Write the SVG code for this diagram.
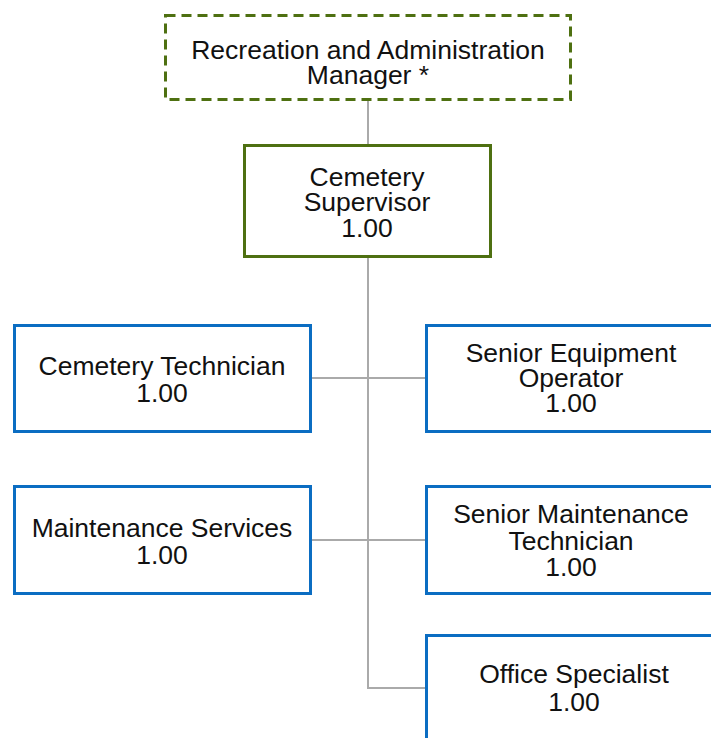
<svg xmlns="http://www.w3.org/2000/svg" width="711" height="738" viewBox="0 0 711 738">
<style>
.t{font-family:"Liberation Sans",Arial,sans-serif;font-size:26.5px;fill:#111;text-anchor:middle}
.g{fill:#fff;stroke:#4E7011;stroke-width:3}
.gd{fill:#fff;stroke:#4E7011;stroke-width:3;stroke-dasharray:10 6}
.b{fill:#fff;stroke:#0B6DC2;stroke-width:3}
.c{fill:none;stroke:#AAAAAA;stroke-width:2}
</style>
<rect width="711" height="738" fill="#fff"/>
<g id="connectors">
<line class="c" x1="368" y1="101" x2="368" y2="144"/>
<polyline class="c" points="368,258 368,688 425,688"/>
<line class="c" x1="312" y1="378" x2="425" y2="378"/>
<line class="c" x1="312" y1="540" x2="425" y2="540"/>
</g>
<g id="manager">
<rect class="gd" x="165.5" y="15.5" width="405" height="84"/>
<text class="t" x="368" y="59">Recreation and Administration</text>
<text class="t" x="368" y="84">Manager *</text>
</g>
<g id="supervisor">
<rect class="g" x="244.5" y="145.5" width="246" height="111"/>
<text class="t" x="367" y="186">Cemetery</text>
<text class="t" x="367" y="211">Supervisor</text>
<text class="t" x="367" y="237">1.00</text>
</g>
<g id="cemetery-technician">
<rect class="b" x="14.5" y="325.5" width="296" height="106"/>
<text class="t" x="162" y="375">Cemetery Technician</text>
<text class="t" x="162" y="402">1.00</text>
</g>
<g id="senior-equipment-operator">
<rect class="b" x="426.5" y="325.5" width="296" height="106"/>
<text class="t" x="571" y="362">Senior Equipment</text>
<text class="t" x="571" y="387">Operator</text>
<text class="t" x="571" y="412">1.00</text>
</g>
<g id="maintenance-services">
<rect class="b" x="14.5" y="486.5" width="296" height="107"/>
<text class="t" x="162" y="537">Maintenance Services</text>
<text class="t" x="162" y="564">1.00</text>
</g>
<g id="senior-maintenance-technician">
<rect class="b" x="426.5" y="486.5" width="296" height="107"/>
<text class="t" x="571" y="523">Senior Maintenance</text>
<text class="t" x="571" y="550">Technician</text>
<text class="t" x="571" y="576">1.00</text>
</g>
<g id="office-specialist">
<rect class="b" x="426.5" y="635.5" width="296" height="106"/>
<text class="t" x="574" y="683">Office Specialist</text>
<text class="t" x="574" y="711">1.00</text>
</g>
</svg>
